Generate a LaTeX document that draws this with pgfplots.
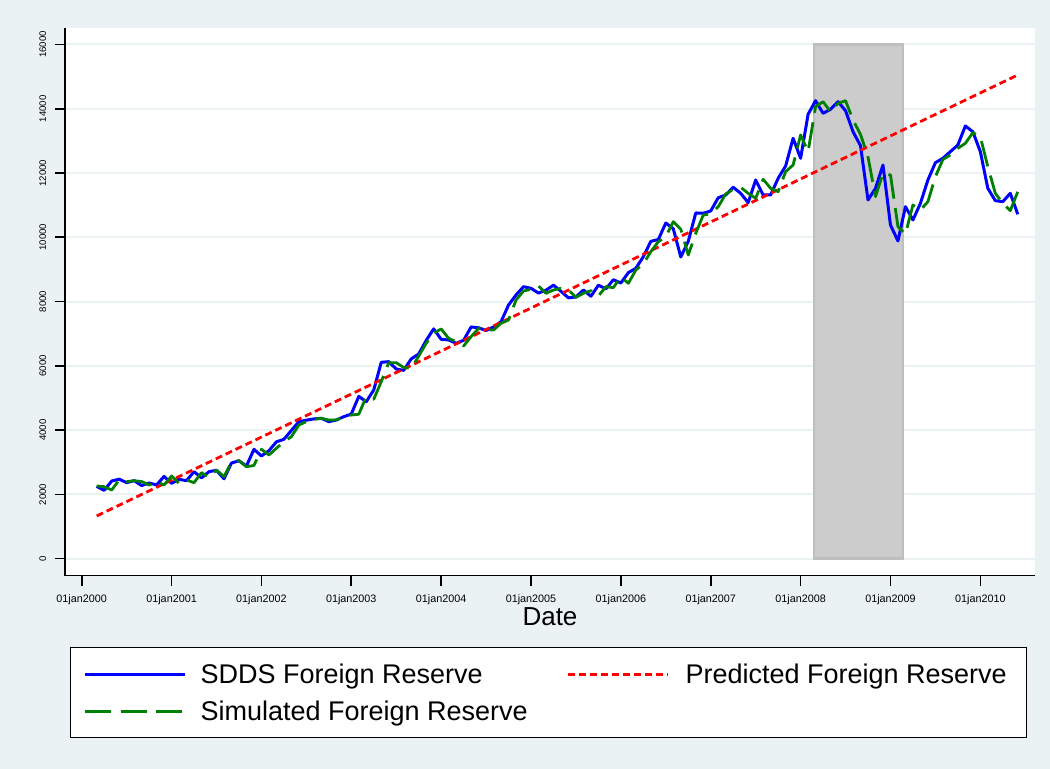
\documentclass[border=0pt]{standalone}
\usepackage{fontspec}
\setmainfont{Liberation Sans}
\usepackage{pgfplots}
\usepackage{pgfplotstable}
\pgfplotsset{compat=1.18}
\definecolor{bgc}{RGB}{234,242,243}
\definecolor{sblue}{RGB}{0,0,255}
\definecolor{sred}{RGB}{255,0,0}
\definecolor{sgreen}{RGB}{0,128,0}
\definecolor{shade}{RGB}{204,204,204}
\definecolor{shadeedge}{RGB}{190,190,190}

% month index m: 0 = Jan 2000
\pgfplotstableread{
m v
2 2250
3 2125
4 2415
5 2475
6 2365
7 2427
8 2275
9 2355
10 2295
11 2560
12 2345
13 2470
14 2427
15 2707
16 2515
17 2707
18 2750
19 2485
20 2977
21 3045
22 2884
23 3403
24 3196
25 3360
26 3635
27 3715
28 3990
29 4263
30 4310
31 4350
32 4368
33 4263
34 4315
35 4418
36 4500
37 5050
38 4885
39 5249
40 6110
41 6130
42 5900
43 5860
44 6215
45 6369
46 6790
47 7150
48 6826
49 6805
50 6702
51 6795
52 7210
53 7185
54 7100
55 7210
56 7374
57 7894
58 8205
59 8463
60 8412
61 8265
62 8355
63 8510
64 8320
65 8115
66 8143
67 8360
68 8165
69 8510
70 8395
71 8680
72 8578
73 8900
74 9035
75 9396
76 9874
77 9930
78 10445
79 10265
80 9387
81 9875
82 10757
83 10747
84 10820
85 11230
86 11316
87 11555
88 11368
89 11077
90 11783
91 11316
92 11316
93 11835
94 12218
95 13080
96 12458
97 13827
98 14250
99 13858
100 13983
101 14219
102 13939
103 13286
104 12850
105 11161
106 11524
107 12249
108 10383
109 9885
110 10952
111 10538
112 11058
113 11783
114 12321
115 12458
116 12664
117 12872
118 13463
119 13286
120 12664
121 11524
122 11139
123 11108
124 11369
125 10716
}\sdds

\pgfplotstableread{
m v
2 1329
125 15050
}\predicted

\pgfplotstableread{
m v
2 2262
3 2240
4 2137
5 2449
6 2396
7 2427
8 2400
9 2293
10 2396
11 2293
12 2573
13 2345
14 2449
15 2365
16 2676
17 2531
18 2760
19 2551
20 3018
21 3050
22 2862
23 2900
24 3404
25 3227
26 3435
27 3640
28 3796
29 4160
30 4263
31 4337
32 4368
33 4315
34 4315
35 4418
36 4471
37 4493
38 5041
39 4960
40 5507
41 6098
42 6098
43 5950
44 5920
45 6300
46 6702
47 7013
48 7147
49 6857
50 6752
51 6618
52 6908
53 7168
54 7116
55 7116
56 7324
57 7427
58 8049
59 8329
60 8381
61 8484
62 8257
63 8360
64 8412
65 8360
66 8133
67 8257
68 8339
69 8174
70 8463
71 8432
72 8774
73 8568
74 8982
75 9169
76 9552
77 9863
78 10019
79 10485
80 10249
81 9449
82 10124
83 10694
84 10730
85 10952
86 11347
87 11493
88 11555
89 11368
90 11213
91 11804
92 11524
93 11419
94 12041
95 12249
96 13183
97 12664
98 14064
99 14219
100 13908
101 14169
102 14250
103 13650
104 13200
105 12500
106 11265
107 11990
108 11939
109 10330
110 10103
111 11005
112 10850
113 11108
114 11886
115 12420
116 12561
117 12769
118 12925
119 13255
120 13130
121 12197
122 11369
123 11058
124 10828
125 11419
}\simulated

\begin{document}
\begin{tikzpicture}
\fill[bgc] (0,0) rectangle (525pt,384.5pt);
\begin{axis}[
  at={(32.5pt,96.65pt)}, anchor=south west,
  scale only axis, width=485pt, height=273.85pt,
  xmin=-2.23, xmax=127.3, ymin=-529, ymax=16512,
  axis x line=bottom, axis y line=left,
  axis line style={black, line width=0.8pt, -},
  axis background/.style={fill=white},
  tick align=outside, major tick length=5pt,
  tick style={black, line width=0.8pt},
  scaled y ticks=false,
  xtick={0,12,24,36,48,60,72,84,96,108,120},
  xticklabels={01jan2000,01jan2001,01jan2002,01jan2003,01jan2004,01jan2005,01jan2006,01jan2007,01jan2008,01jan2009,01jan2010},
  ytick={0,2000,4000,6000,8000,10000,12000,14000,16000},
  yticklabels={0,2000,4000,6000,8000,10000,12000,14000,16000},
  minor tick num=0,
  ymajorgrids, grid style={bgc, line width=1pt},
  xticklabel style={font=\fontsize{5.4}{6}\selectfont, anchor=base, inner sep=0pt},
  xticklabel shift=8.4pt,
  yticklabel style={font=\fontsize{4.8}{6}\selectfont, rotate=90, anchor=south, inner sep=0pt},
  yticklabel shift=4.25pt,
  xlabel={Date},
  xlabel style={font=\fontsize{13}{15}\selectfont, at={(axis description cs:0.5,-0.0754)}, anchor=center, inner sep=0pt},
  no markers,
  legend columns=2,
  legend cell align=left,
  legend style={
    at={(0.00515,-0.1302)}, anchor=north west,
    draw=black, line width=0.6pt, fill=white,
    font=\fontsize{13.5}{16}\selectfont,
    inner xsep=6.5pt, inner ysep=7pt,
    row sep=6pt,
    nodes={inner sep=0pt, text height=11pt, text depth=1.5pt},
    /tikz/column 1/.style={column sep=7pt},
    /tikz/column 2/.style={column sep=19.5pt},
    /tikz/column 3/.style={column sep=8pt},
  },
  legend image code/.code={\draw[#1] (0pt,0pt) -- (50pt,0pt);},
]
\addplot[fill=shade, draw=shadeedge, line width=1.2pt, forget plot]
  coordinates {(97.8,0) (97.8,16000) (109.65,16000) (109.65,0)} \closedcycle;
\addplot[sblue, line width=1.5pt, line join=round] table[x=m, y=v] {\sdds};
\addlegendentry{SDDS Foreign Reserve}
\addplot[sred, line width=1.4pt, dash pattern=on 3.5pt off 2pt] table[x=m, y=v] {\predicted};
\addlegendentry{Predicted Foreign Reserve\hspace*{3.5pt}}
\addplot[sgreen, line width=1.4pt, dash pattern=on 13pt off 4.8pt, line join=round] table[x=m, y=v] {\simulated};
\addlegendentry{Simulated Foreign Reserve}
\end{axis}
\end{tikzpicture}
\end{document}
